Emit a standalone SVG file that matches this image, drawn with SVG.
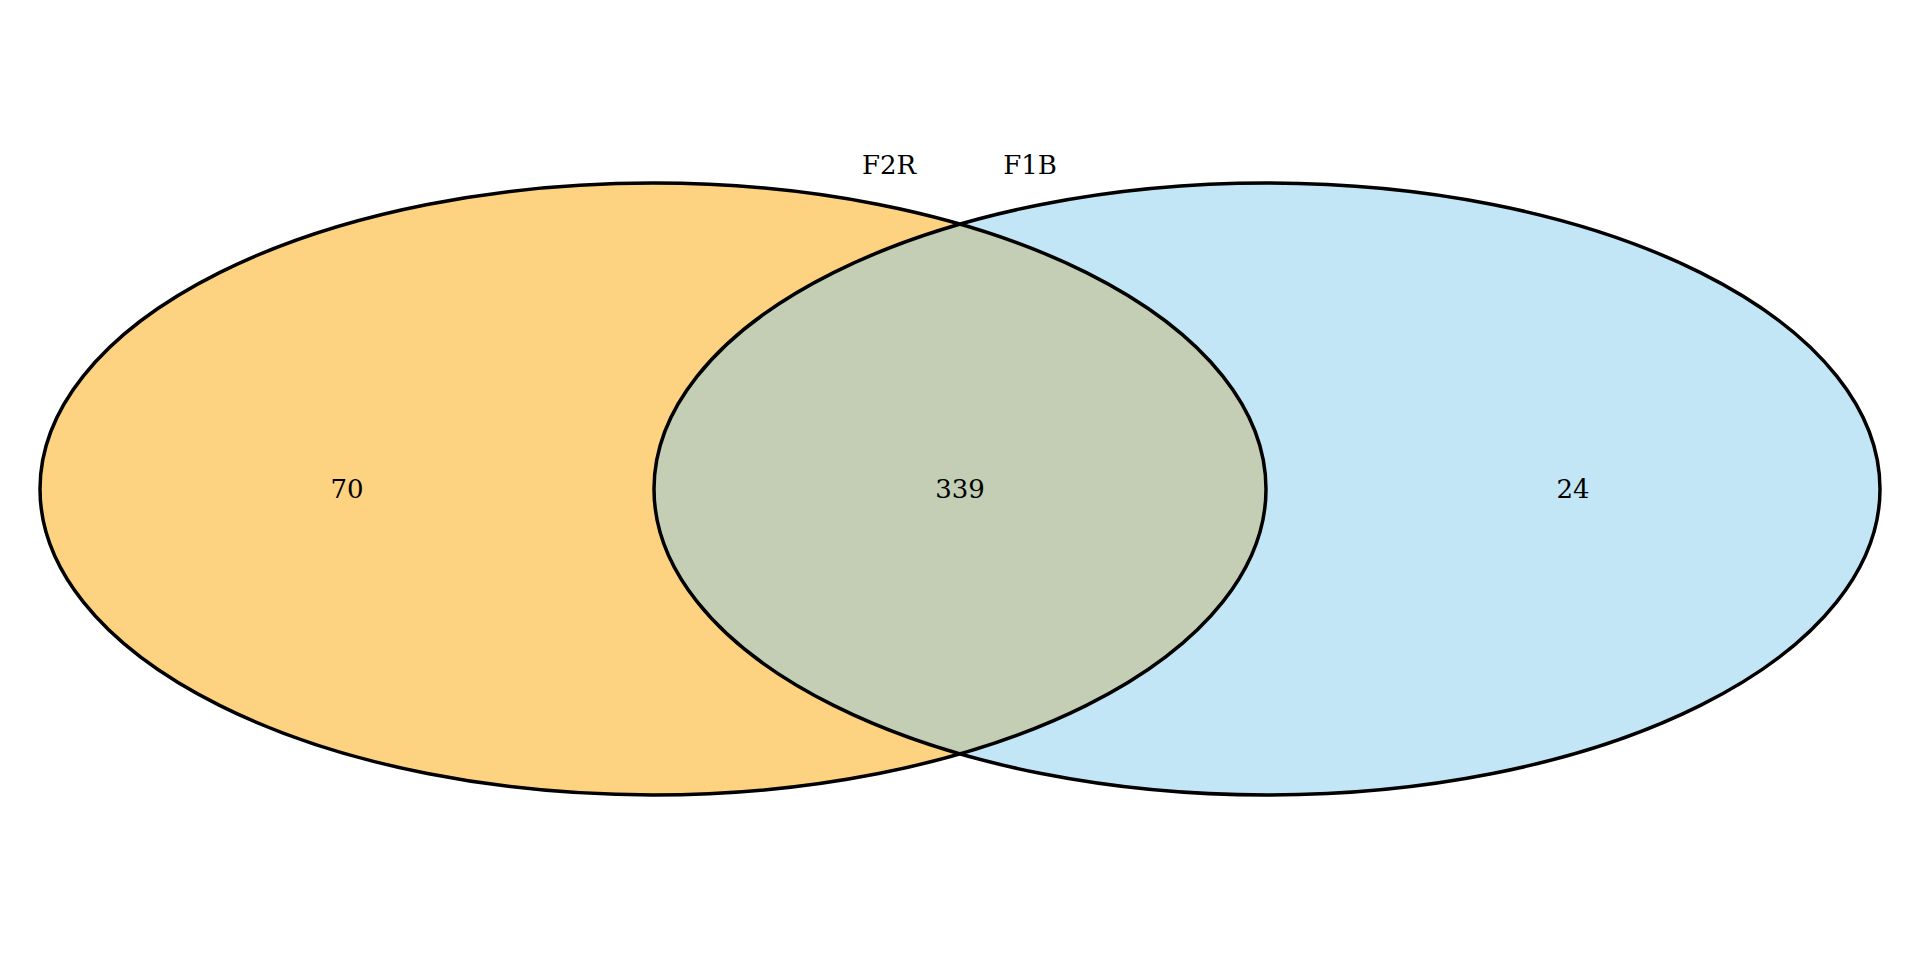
<svg xmlns="http://www.w3.org/2000/svg" width="1920" height="960" viewBox="0 0 1920 960">
<style>
.t{font-family:"DejaVu Serif",serif;font-size:26px;fill:#000;text-anchor:middle}
.o{fill:none;stroke:#000;stroke-width:3.5}
</style>
<defs>
<clipPath id="cl"><ellipse cx="653" cy="489" rx="613" ry="306"/></clipPath>
</defs>
<rect width="1920" height="960" fill="#fff"/>
<g id="F2R">
<ellipse cx="653" cy="489" rx="613" ry="306" fill="#FDD281"/>
</g>
<g id="F1B">
<ellipse cx="1267" cy="489" rx="613" ry="306" fill="#C2E6F5"/>
</g>
<g id="overlap">
<ellipse cx="1267" cy="489" rx="613" ry="306" fill="#C3CEB5" clip-path="url(#cl)"/>
</g>
<g id="outlines">
<ellipse class="o" cx="653" cy="489" rx="613" ry="306"/>
<ellipse class="o" cx="1267" cy="489" rx="613" ry="306"/>
</g>
<g id="labels">
<text class="t" x="889" y="174">F2R</text>
<text class="t" x="1030" y="174">F1B</text>
<text class="t" x="347" y="498">70</text>
<text class="t" x="960" y="498">339</text>
<text class="t" x="1573" y="498">24</text>
</g>
</svg>
